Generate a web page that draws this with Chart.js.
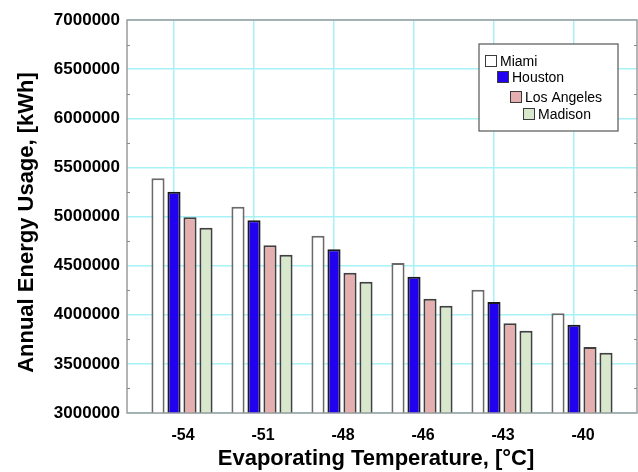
<!DOCTYPE html>
<html>
<head>
<meta charset="utf-8">
<script src="https://cdn.jsdelivr.net/npm/chart.js@4/dist/chart.umd.min.js"></script>
<style>
  html, body { margin: 0; padding: 0; background: #ffffff; }
  #wrap { width: 638px; height: 472px; }
</style>
</head>
<body>
<div id="wrap"><canvas id="chart" width="638" height="472"></canvas></div>
<script>
// Evaporating temperatures (°C) on the horizontal axis
const temperatures = ['-54', '-51', '-48', '-46', '-43', '-40'];

// Annual energy usage per city, kWh
const miami      = [5390000, 5100000, 4805000, 4527000, 4255000, 4014000];
const houston    = [5252000, 4961000, 4666000, 4388000, 4130000, 3899000];
const losAngeles = [4992000, 4707000, 4428000, 4164000, 3913000, 3672000];
const madison    = [4886000, 4611000, 4337000, 4092000, 3838000, 3614000];

const cityNames = ['Miami', 'Houston', 'Los Angeles', 'Madison'];

// Energy axis range and spacing
const yMin = 3000000;
const yMax = 7000000;
const yStep = 500000;

const FONT = '"Liberation Sans", Arial, Helvetica, sans-serif';
const GRID = '#a6f2f7';

// vertical grid lines sit slightly left of each bar group
const GRID_SHIFT = 0.1;

function points(values) {
  return values.map((v, i) => ({ x: i, y: v }));
}

const seriesStyle = [
  { bg: '#ffffff', border: '#6a6a6a' },
  { bg: '#2200f0', border: '#1a1a1a' },
  { bg: '#e6afaf', border: '#404040' },
  { bg: '#d7e8cd', border: '#404040' }
];

const seriesValues = [miami, houston, losAngeles, madison];

const datasets = seriesValues.map((vals, k) => ({
  label: cityNames[k],
  data: points(vals),
  backgroundColor: seriesStyle[k].bg,
  borderColor: seriesStyle[k].border,
  borderWidth: 2,
  borderSkipped: 'bottom',
  categoryPercentage: 0.8,
  barPercentage: 0.82
}));

// Frame, minor ticks, axis titles and the stepped legend
const decorations = {
  id: 'decorations',
  afterDraw(chart) {
    const ctx = chart.ctx;
    const { left, right, top, bottom } = chart.chartArea;
    const y = chart.scales.y;
    ctx.save();

    // plot frame
    ctx.strokeStyle = '#9c9c9c';
    ctx.lineWidth = 1.5;
    ctx.strokeRect(left, top, right - left, bottom - top);

    // minor ticks on both vertical edges
    ctx.lineWidth = 1;
    ctx.strokeStyle = '#8a8a8a';
    for (let v = yMin + yStep / 2; v < yMax; v += yStep) {
      const py = Math.round(y.getPixelForValue(v)) + 0.5;
      ctx.beginPath();
      ctx.moveTo(left, py); ctx.lineTo(left + 3, py);
      ctx.moveTo(right, py); ctx.lineTo(right - 3, py);
      ctx.stroke();
    }

    // axis titles
    ctx.fillStyle = '#000000';
    ctx.font = 'bold 22px ' + FONT;
    ctx.textAlign = 'center';
    ctx.textBaseline = 'middle';
    ctx.fillText('Evaporating Temperature, [°C]', (left + right) / 2 - 6, 459);
    ctx.save();
    ctx.translate(27, (top + bottom) / 2 + 6);
    ctx.rotate(-Math.PI / 2);
    ctx.fillText('Annual Energy Usage, [kWh]', 0, 0);
    ctx.restore();

    // legend box
    const bx = 479, by = 44, bw = 139, bh = 87;
    ctx.fillStyle = '#ffffff';
    ctx.fillRect(bx, by, bw, bh);
    ctx.strokeStyle = '#555555';
    ctx.lineWidth = 1.2;
    ctx.strokeRect(bx, by, bw, bh);

    const stepX = [6, 18, 31, 44];
    const rowY = [61, 77, 97, 114];
    ctx.font = '14px ' + FONT;
    ctx.textAlign = 'left';
    chart.data.datasets.forEach((ds, k) => {
      const sx = bx + stepX[k];
      const sy = rowY[k];
      ctx.fillStyle = ds.backgroundColor;
      ctx.fillRect(sx, sy - 6, 12, 12);
      ctx.strokeStyle = '#3a3a3a';
      ctx.lineWidth = 1;
      ctx.strokeRect(sx + 0.5, sy - 5.5, 11, 11);
      ctx.fillStyle = '#000000';
      ctx.fillText(ds.label, sx + 15, sy + 1);
    });

    ctx.restore();
  }
};

new Chart(document.getElementById('chart'), {
  type: 'bar',
  data: { datasets },
  plugins: [decorations],
  options: {
    responsive: false,
    animation: false,
    devicePixelRatio: 1,
    layout: { padding: { left: 0, right: 1, top: 20, bottom: 0 } },
    plugins: {
      legend: { display: false },
      tooltip: { enabled: false }
    },
    scales: {
      x: {
        type: 'linear',
        offset: false,
        min: -0.6875,
        max: temperatures.length - 1 + 0.6875,
        afterBuildTicks: (scale) => {
          scale.ticks = temperatures.map((_, i) => ({ value: i - GRID_SHIFT }));
        },
        afterFit: (scale) => { scale.height = 59; },
        grid: { color: GRID, lineWidth: 1.5, drawTicks: false, offset: false },
        border: { display: false },
        ticks: {
          padding: 13,
          labelOffset: 9,
          color: '#000000',
          font: { family: FONT, size: 16, weight: 'bold' },
          callback: (v, i) => temperatures[i],
          maxRotation: 0
        }
      },
      y: {
        min: yMin,
        max: yMax,
        afterFit: (scale) => { scale.width = 127; },
        grid: { color: GRID, lineWidth: 1.5, drawTicks: false },
        border: { display: false },
        ticks: {
          stepSize: yStep,
          padding: 7,
          color: '#000000',
          font: { family: FONT, size: 17, weight: 'bold' },
          callback: (v) => String(v)
        }
      }
    }
  }
});
</script>
</body>
</html>
